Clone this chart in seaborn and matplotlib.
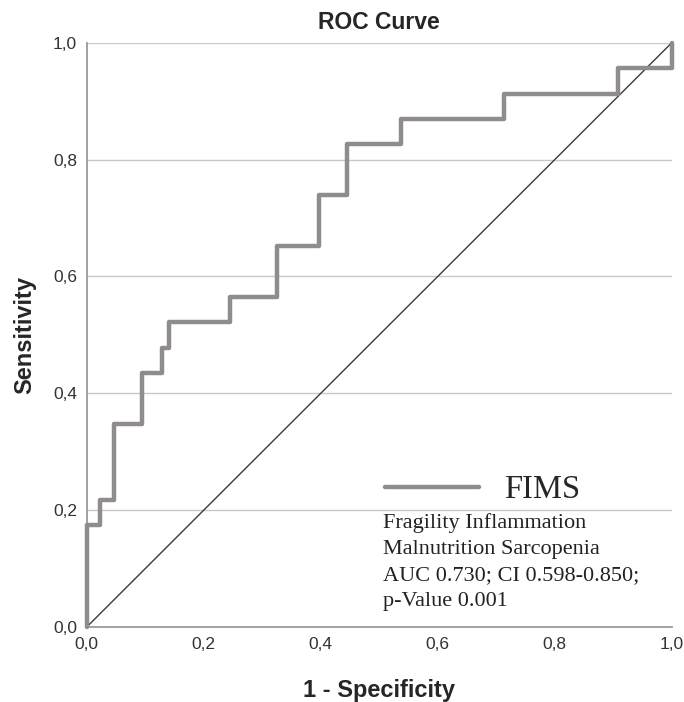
import numpy as np
import pandas as pd
import matplotlib
matplotlib.use("Agg")
import matplotlib.pyplot as plt
import seaborn as sns

# ------------------------------------------------------------------
# ROC curve points
# ------------------------------------------------------------------
FPR = [0.000, 0.000, 0.022, 0.022, 0.046, 0.046, 0.094, 0.094, 0.128, 0.128,
       0.140, 0.140, 0.244, 0.244, 0.325, 0.325, 0.397, 0.397, 0.444, 0.444,
       0.537, 0.537, 0.713, 0.713, 0.909, 0.909, 1.000, 1.000]
TPR = [0.000, 0.174, 0.174, 0.217, 0.217, 0.348, 0.348, 0.435, 0.435, 0.478,
       0.478, 0.522, 0.522, 0.565, 0.565, 0.652, 0.652, 0.739, 0.739, 0.826,
       0.826, 0.870, 0.870, 0.913, 0.913, 0.957, 0.957, 1.000]
REF_LINE = [0.0, 1.0]

TICKS = [0.0, 0.2, 0.4, 0.6, 0.8, 1.0]
TICK_LABELS = ["0,0", "0,2", "0,4", "0,6", "0,8", "1,0"]

SERIES_NAME = "FIMS"
NOTE = ("Fragility Inflammation\n"
        "Malnutrition Sarcopenia\n"
        "AUC 0.730; CI 0.598-0.850;\n"
        "p-Value 0.001")

CURVE_COLOR = "#908b8c"
GRID_COLOR = "#c9c9c9"
SPINE_COLOR = "#9a9a9a"

sns.set_theme(style="white")
plt.rcParams["font.family"] = ["Liberation Sans", "DejaVu Sans"]

roc = pd.DataFrame({"fpr": FPR, "tpr": TPR})

fig = plt.figure(figsize=(6.84, 7.02), dpi=100)
ax = fig.add_axes([0.127, 0.107, 0.855, 0.832])

# horizontal reference grid
for t in TICKS[1:]:
    ax.axhline(t, color=GRID_COLOR, lw=1.0, zorder=0)

# chance diagonal
sns.lineplot(x=REF_LINE, y=REF_LINE, ax=ax, color="#3a3a3a", lw=1.0,
             estimator=None, sort=False, zorder=2)

# ROC step curve
sns.lineplot(data=roc, x="fpr", y="tpr", ax=ax, color=CURVE_COLOR, lw=3.2,
             estimator=None, sort=False, label=SERIES_NAME, zorder=3,
             clip_on=False)

ax.set_xlim(0, 1)
ax.set_ylim(0, 1)
ax.set_xticks(TICKS)
ax.set_xticklabels(TICK_LABELS)
ax.set_yticks(TICKS)
ax.set_yticklabels(TICK_LABELS)
ax.tick_params(axis="both", length=0, labelsize=12.5, colors="#333333")
ax.tick_params(axis="x", pad=7)
ax.tick_params(axis="y", pad=7)

for side in ["top", "right"]:
    ax.spines[side].set_visible(False)
for side in ["left", "bottom"]:
    ax.spines[side].set_color(SPINE_COLOR)
    ax.spines[side].set_linewidth(1.3)

ax.set_title("ROC Curve", fontsize=16.5, fontweight="bold", pad=10)
ax.set_xlabel("1 - Specificity", fontsize=17, fontweight="bold", labelpad=20)
ax.set_ylabel("Sensitivity", fontsize=17, fontweight="bold", labelpad=12)

leg = ax.legend(loc="center left", bbox_to_anchor=(0.509, 0.2346),
                frameon=False, borderpad=0, borderaxespad=0,
                handlelength=2.9, handletextpad=0.75,
                prop={"family": "Liberation Serif", "size": 23.5})
for line in leg.get_lines():
    line.set_linewidth(3.2)

ax.text(0.506, 0.195, NOTE, transform=ax.transAxes, va="top", ha="left",
        fontsize=16, family="Liberation Serif", color="#222222",
        linespacing=1.5)

fig.savefig("out.png", dpi=100)
